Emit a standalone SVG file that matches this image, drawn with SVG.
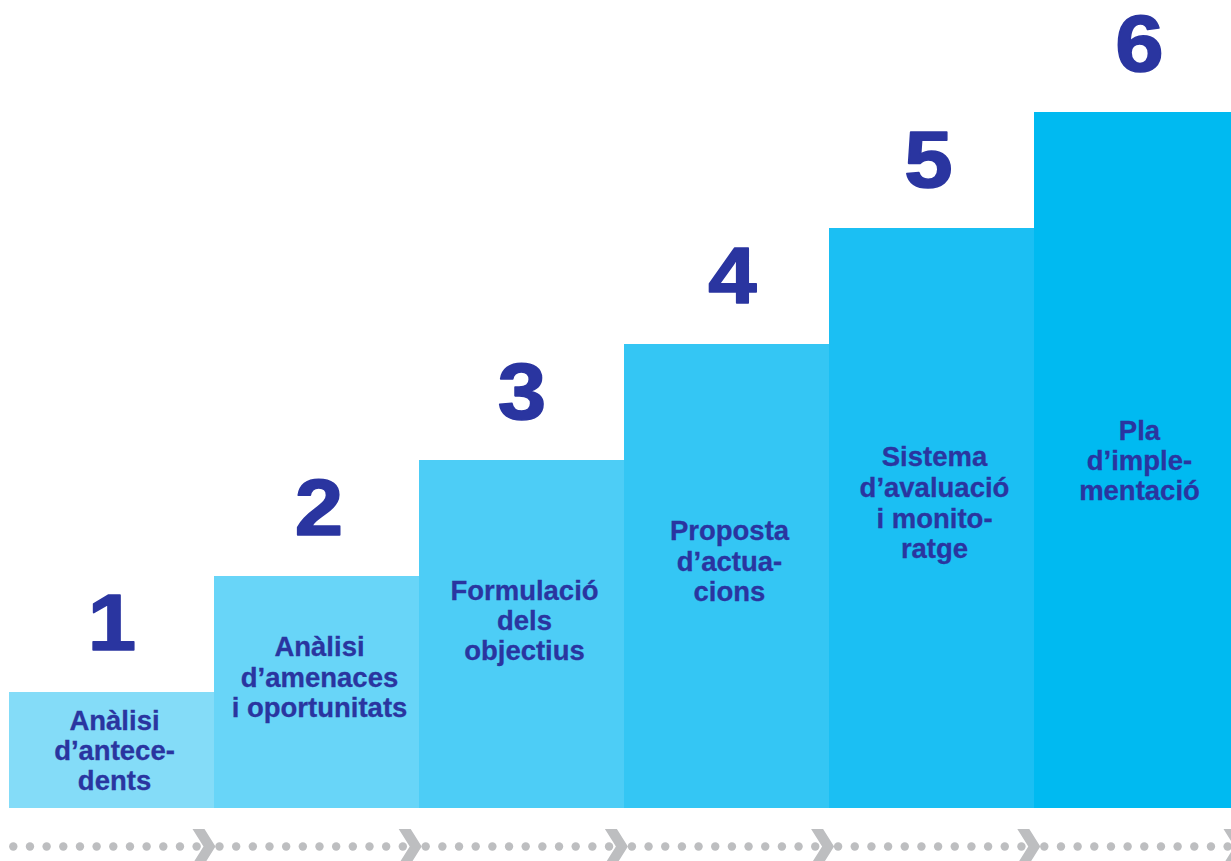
<svg xmlns="http://www.w3.org/2000/svg" xmlns:xlink="http://www.w3.org/1999/xlink" width="1231" height="861" viewBox="0 0 1231 861">
  <style>
    .num { font-family: "Liberation Sans", Arial, sans-serif; font-weight: bold; font-size: 79px; fill: #2a35a0; stroke: #2a35a0; stroke-width: 1.6px; stroke-linejoin: round; text-anchor: middle; }
    .lbl { font-family: "Liberation Sans", Arial, sans-serif; font-weight: bold; font-size: 27.5px; fill: #2a35a0; stroke: #2a35a0; stroke-width: 0.3px; text-anchor: middle; }
    .dot { fill: #bdbec0; }
    .chev { fill: #bdbec0; }
  </style>
  <defs>
    <g id="dotrow">
      <circle class="dot" cx="0" cy="846.5" r="4.2"/>
      <circle class="dot" cx="16.667" cy="846.5" r="4.2"/>
      <circle class="dot" cx="33.333" cy="846.5" r="4.2"/>
      <circle class="dot" cx="50" cy="846.5" r="4.2"/>
      <circle class="dot" cx="66.667" cy="846.5" r="4.2"/>
      <circle class="dot" cx="83.333" cy="846.5" r="4.2"/>
      <circle class="dot" cx="100" cy="846.5" r="4.2"/>
      <circle class="dot" cx="116.667" cy="846.5" r="4.2"/>
      <circle class="dot" cx="133.333" cy="846.5" r="4.2"/>
      <circle class="dot" cx="150" cy="846.5" r="4.2"/>
      <circle class="dot" cx="166.667" cy="846.5" r="4.2"/>
      <circle class="dot" cx="183.333" cy="846.5" r="4.2"/>
    </g>
    <path id="chev" class="chev" d="M-0.5,829 L11.5,829 L22.5,846.5 L11.5,864 L-0.5,864 L10.5,846.5 Z"/>
  </defs>
  <rect width="1231" height="861" fill="#ffffff"/>

  <g id="step1">
    <rect x="9" y="692" width="205" height="116" fill="#84dcf8"/>
    <text class="num" transform="translate(112,650) scale(1.1,1)">1</text>
    <text class="lbl" x="114.5" y="730">Anàlisi</text>
    <text class="lbl" x="114.5" y="760">d’antece-</text>
    <text class="lbl" x="114.5" y="790">dents</text>
  </g>
  <g id="step2">
    <rect x="214" y="576" width="205" height="232" fill="#68d5f8"/>
    <text class="num" transform="translate(319,535) scale(1.1,1)">2</text>
    <text class="lbl" x="319.5" y="656">Anàlisi</text>
    <text class="lbl" x="319.5" y="686.5">d’amenaces</text>
    <text class="lbl" x="319.5" y="717">i oportunitats</text>
  </g>
  <g id="step3">
    <rect x="419" y="460" width="205" height="348" fill="#4dcdf6"/>
    <text class="num" transform="translate(522,419) scale(1.1,1)">3</text>
    <text class="lbl" x="524.5" y="600">Formulació</text>
    <text class="lbl" x="524.5" y="630">dels</text>
    <text class="lbl" x="524.5" y="659.5">objectius</text>
  </g>
  <g id="step4">
    <rect x="624" y="344" width="205" height="464" fill="#34c6f4"/>
    <text class="num" transform="translate(732.5,303) scale(1.1,1)">4</text>
    <text class="lbl" x="729.5" y="540">Proposta</text>
    <text class="lbl" x="729.5" y="570.5">d’actua-</text>
    <text class="lbl" x="729.5" y="601">cions</text>
  </g>
  <g id="step5">
    <rect x="829" y="228" width="205" height="580" fill="#1bbff3"/>
    <text class="num" transform="translate(928.5,187) scale(1.1,1)">5</text>
    <text class="lbl" x="934.5" y="466">Sistema</text>
    <text class="lbl" x="934.5" y="496.5">d’avaluació</text>
    <text class="lbl" x="934.5" y="527.5">i monito-</text>
    <text class="lbl" x="934.5" y="558">ratge</text>
  </g>
  <g id="step6">
    <rect x="1034" y="112" width="205" height="696" fill="#00baf1"/>
    <text class="num" transform="translate(1139.5,71) scale(1.1,1)">6</text>
    <text class="lbl" x="1139.5" y="440">Pla</text>
    <text class="lbl" x="1139.5" y="470">d’imple-</text>
    <text class="lbl" x="1139.5" y="500">mentació</text>
  </g>

  <g id="connectors">
    <use xlink:href="#dotrow" x="13.3"/>
    <use xlink:href="#dotrow" x="219.5"/>
    <use xlink:href="#dotrow" x="425.7"/>
    <use xlink:href="#dotrow" x="631.9"/>
    <use xlink:href="#dotrow" x="838.1"/>
    <use xlink:href="#dotrow" x="1044.3"/>
    <use xlink:href="#chev" x="193"/>
    <use xlink:href="#chev" x="399.2"/>
    <use xlink:href="#chev" x="605.4"/>
    <use xlink:href="#chev" x="811.6"/>
    <use xlink:href="#chev" x="1017.8"/>
    <use xlink:href="#chev" x="1224"/>
  </g>
</svg>
